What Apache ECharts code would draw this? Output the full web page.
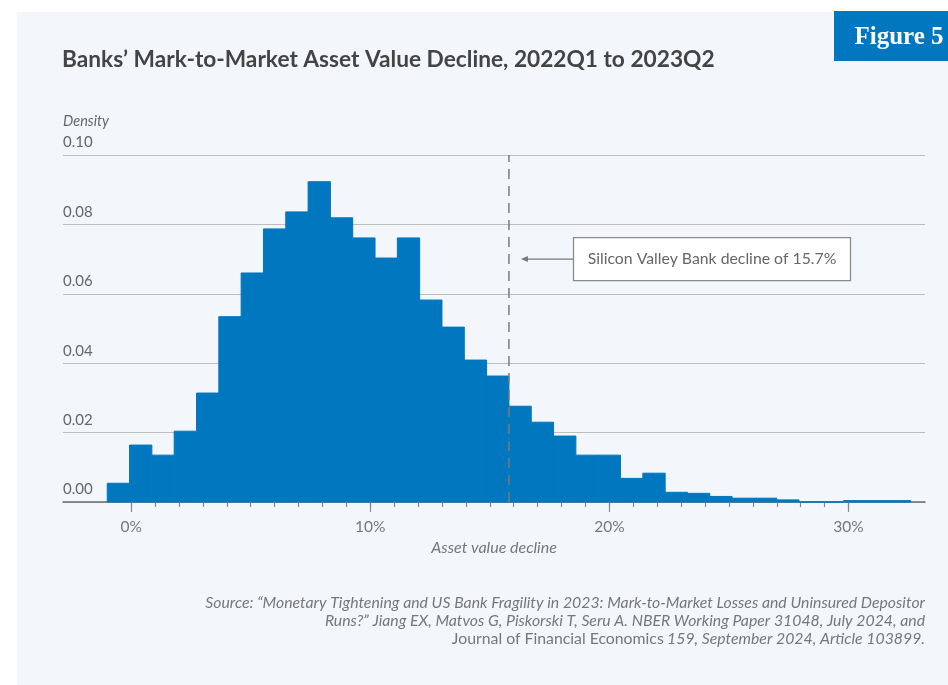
<!DOCTYPE html>
<html>
<head>
<meta charset="utf-8">
<script src="https://cdn.jsdelivr.net/npm/echarts@6/dist/echarts.min.js"></script>
<style>
  html, body { margin: 0; padding: 0; background: #fff; }
  #histChart { width: 948px; height: 685px; }
</style>
</head>
<body>
<div id="histChart"></div>
<script>
// histogram bins (asset value decline, %)
const binStart = -1.0
const binWidth = 0.9333
const density = [
  0.0054, 0.0164, 0.0135, 0.0204, 0.0314, 0.0534, 0.0660, 0.0787, 0.0836, 0.0923,
  0.0819, 0.0761, 0.0703, 0.0761, 0.0582, 0.0504, 0.0409, 0.0363, 0.0276, 0.0230,
  0.0190, 0.0135, 0.0135, 0.0068, 0.0083, 0.0028, 0.0025, 0.0016, 0.0011, 0.0011,
  0.0006, 0, 0, 0.0004, 0.0004, 0.0004
]
const majorTicks = [0, 10, 20, 30]
const yTicks = [0, 0.02, 0.04, 0.06, 0.08, 0.10]
const svbLineX = 15.8
const svbLabel = 'Silicon Valley Bank decline of 15.7%'

const blue = '#0077bf'
const font = 'Lato, "Noto Sans", sans-serif'

const histData = density.map((v, i) => [binStart + i * binWidth, binStart + (i + 1) * binWidth, v])
const minorTicks = []
for (let t = 0; t <= 30; t++) minorTicks.push(t)

const chart = echarts.init(document.getElementById('histChart'))

const option = {
  backgroundColor: '#fff',
  animation: false,
  grid: { left: 63, right: 23, top: 155, bottom: 183 },
  xAxis: [
    {
      type: 'value',
      min: -2.85,
      max: 33.2,
      name: 'Asset value decline',
      nameLocation: 'middle',
      nameGap: 33,
      nameTextStyle: { fontFamily: font, fontStyle: 'italic', fontSize: 16, color: '#777' },
      splitLine: { show: false },
      axisLine: { show: true, lineStyle: { color: '#6e6e6e', width: 1.5 } },
      axisTick: { show: true, customValues: majorTicks, length: 10, lineStyle: { color: '#8a8a8a', width: 1.2 } },
      axisLabel: {
        customValues: majorTicks,
        formatter: v => v + '%',
        margin: 17,
        fontFamily: font,
        fontSize: 15.5,
        color: '#777'
      }
    },
    {
      type: 'value',
      min: -2.85,
      max: 33.2,
      position: 'bottom',
      splitLine: { show: false },
      axisLine: { show: false },
      axisTick: { show: true, customValues: minorTicks, length: 5, lineStyle: { color: '#8a8a8a', width: 1.2 } },
      axisLabel: { show: false }
    }
  ],
  yAxis: {
    type: 'value',
    min: 0,
    max: 0.10,
    interval: 0.02,
    axisLine: { show: false },
    axisTick: { show: false },
    splitLine: { show: true, lineStyle: { color: '#bdbdbd', width: 1 } },
    axisLabel: {
      inside: true,
      margin: 0,
      verticalAlign: 'bottom',
      padding: [0, 0, 5, 0],
      formatter: v => v.toFixed(2),
      fontFamily: font,
      fontSize: 15,
      color: '#666'
    }
  },
  series: [
    {
      type: 'custom',
      xAxisIndex: 0,
      renderItem: function (params, api) {
        const top = api.coord([api.value(0), api.value(2)])
        const bottom = api.coord([api.value(1), 0])
        return {
          type: 'rect',
          shape: { x: top[0], y: top[1], width: bottom[0] - top[0], height: bottom[1] - top[1] },
          style: { fill: blue, stroke: blue, lineWidth: 1 }
        }
      },
      encode: { x: [0, 1], y: 2 },
      data: histData,
      z: 2
    },
    {
      type: 'line',
      xAxisIndex: 0,
      data: [[svbLineX, 0], [svbLineX, 0.10]],
      symbol: 'none',
      lineStyle: { color: '#7a7a7a', width: 1.5, type: [10, 7] },
      z: 5
    }
  ]
}
chart.setOption(option)

// annotation box and arrow, placed in data units
const boxPos = chart.convertToPixel({ xAxisIndex: 0, yAxisIndex: 0 }, [18.5, 0.07])
const tipPos = chart.convertToPixel({ xAxisIndex: 0, yAxisIndex: 0 }, [16.3, 0.07])
const boxW = 277, boxH = 43
const srcFont = '15.8px ' + font

chart.setOption({
  graphic: [
    { type: 'rect', z: -10, silent: true, shape: { x: 17, y: 12, width: 931, height: 673 }, style: { fill: '#f3f7fb' } },
    { type: 'rect', shape: { x: 834, y: 11, width: 114, height: 50 }, style: { fill: blue } },
    {
      type: 'text', x: 899, y: 38,
      style: { text: 'Figure 5', fill: '#fff', font: 'bold 25px "Liberation Serif", "DejaVu Serif", serif', align: 'center', verticalAlign: 'middle' }
    },
    {
      type: 'text', x: 62, y: 60,
      style: { text: 'Banks’ Mark-to-Market Asset Value Decline, 2022Q1 to 2023Q2', fill: '#444', font: 'bold 22.7px ' + font, verticalAlign: 'middle' }
    },
    {
      type: 'text', x: 63, y: 121,
      style: { text: 'Density', fill: '#666', font: 'italic 14.5px ' + font, verticalAlign: 'middle' }
    },
    {
      type: 'rect',
      shape: { x: boxPos[0], y: boxPos[1] - boxH / 2, width: boxW, height: boxH },
      style: { fill: '#fff', stroke: '#8c8c8c', lineWidth: 1.3 },
      z: 10
    },
    {
      type: 'text', x: boxPos[0] + boxW / 2, y: boxPos[1],
      style: { text: svbLabel, fill: '#666', font: '15.8px ' + font, align: 'center', verticalAlign: 'middle' },
      z: 11
    },
    {
      type: 'line',
      shape: { x1: boxPos[0], y1: boxPos[1], x2: tipPos[0] + 4, y2: tipPos[1] },
      style: { stroke: '#777', lineWidth: 1.2 },
      z: 10
    },
    {
      type: 'polygon',
      shape: { points: [[tipPos[0], tipPos[1]], [tipPos[0] + 7, tipPos[1] - 3], [tipPos[0] + 7, tipPos[1] + 3]] },
      style: { fill: '#777' },
      z: 10
    },
    {
      type: 'text', x: 925, y: 603,
      style: {
        text: 'Source: “Monetary Tightening and US Bank Fragility in 2023: Mark-to-Market Losses and Uninsured Depositor',
        fill: '#777', font: 'italic ' + srcFont, align: 'right', verticalAlign: 'middle'
      }
    },
    {
      type: 'text', x: 925, y: 621,
      style: {
        text: 'Runs?” Jiang EX, Matvos G, Piskorski T, Seru A. NBER Working Paper 31048, July 2024, and',
        fill: '#777', font: 'italic ' + srcFont, align: 'right', verticalAlign: 'middle'
      }
    },
    {
      type: 'text', x: 925, y: 639,
      style: {
        text: '{n|Journal of Financial Economics} {i|159, September 2024, Article 103899.}',
        align: 'right', verticalAlign: 'middle',
        rich: {
          n: { fill: '#777', font: srcFont },
          i: { fill: '#777', font: 'italic ' + srcFont }
        }
      }
    }
  ]
})
</script>
</body>
</html>
